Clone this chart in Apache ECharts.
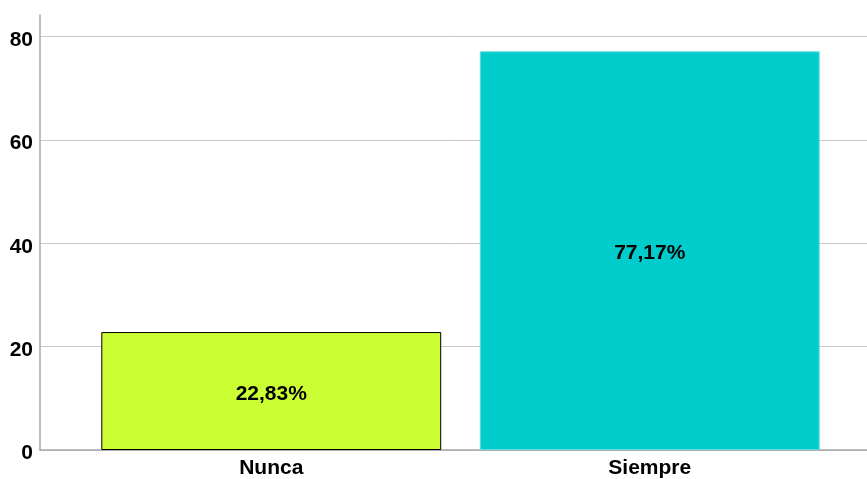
<!DOCTYPE html>
<html>
<head>
<meta charset="utf-8">
<script src="https://cdn.jsdelivr.net/npm/echarts@6/dist/echarts.min.js"></script>
<style>
  html, body { margin: 0; padding: 0; background: #fff; }
  #chart { width: 867px; height: 479px; }
</style>
</head>
<body>
<div id="chart"></div>
<script>
// valores (porcentaje)
var categories = ['Nunca', 'Siempre'];
var values = [22.83, 77.17];
var barColors = ['#ccff33', '#00cccc'];
var borderColors = ['#000000', '#5fdede'];
var yTicks = [0, 20, 40, 60, 80];

var font = 'Liberation Sans, Arial, sans-serif';
var yMax = 84.2;

var chart = echarts.init(document.getElementById('chart'));

var option = {
    animation: false,
    grid: [
        // grid de fondo: eje y, lineas guia
        { left: 40, right: 0, top: 15, bottom: 29 },
        // grid de las barras
        { left: 82, width: 757, top: 15, bottom: 29 }
    ],
    xAxis: [
        {
            gridIndex: 0,
            type: 'value',
            min: 0,
            max: 1,
            axisLine: { show: true, lineStyle: { color: '#a8a8a8', width: 1.5 } },
            axisTick: { show: false },
            axisLabel: { show: false },
            splitLine: { show: false }
        },
        {
            gridIndex: 1,
            type: 'category',
            data: categories,
            axisLine: { show: false },
            axisTick: { show: false },
            axisLabel: {
                margin: 8,
                color: '#000',
                fontFamily: font,
                fontWeight: 'bold',
                fontSize: 21
            }
        }
    ],
    yAxis: [
        {
            gridIndex: 0,
            type: 'value',
            min: yTicks[0],
            max: yMax,
            interval: 20,
            axisLine: { show: true, lineStyle: { color: '#a8a8a8', width: 1.5 } },
            axisTick: { show: false },
            axisLabel: {
                margin: 7,
                showMaxLabel: false,
                color: '#000',
                fontFamily: font,
                fontWeight: 'bold',
                fontSize: 21,
                formatter: function (v) {
                    return yTicks.indexOf(v) >= 0 ? '{v|' + v + '}' : '';
                },
                rich: {
                    v: {
                        color: '#000',
                        fontFamily: font,
                        fontWeight: 'bold',
                        fontSize: 21,
                        padding: [7, 0, 0, 0]
                    }
                }
            },
            splitLine: {
                show: true,
                showMaxLine: false,
                lineStyle: { color: '#c8c8c8', width: 1 }
            }
        },
        {
            gridIndex: 1,
            type: 'value',
            min: yTicks[0],
            max: yMax,
            show: false
        }
    ],
    series: [
        {
            type: 'bar',
            xAxisIndex: 1,
            yAxisIndex: 1,
            barCategoryGap: '10.2%',
            data: values.map(function (v, i) {
                return {
                    value: v,
                    itemStyle: {
                        color: barColors[i],
                        borderColor: borderColors[i],
                        borderWidth: 1
                    }
                };
            }),
            label: {
                show: true,
                position: 'inside',
                offset: [0, 3],
                color: '#000',
                fontFamily: font,
                fontWeight: 'bold',
                fontSize: 21,
                formatter: function (p) {
                    return p.value.toFixed(2).replace('.', ',') + '%';
                }
            }
        }
    ]
};

chart.setOption(option);
</script>
</body>
</html>
